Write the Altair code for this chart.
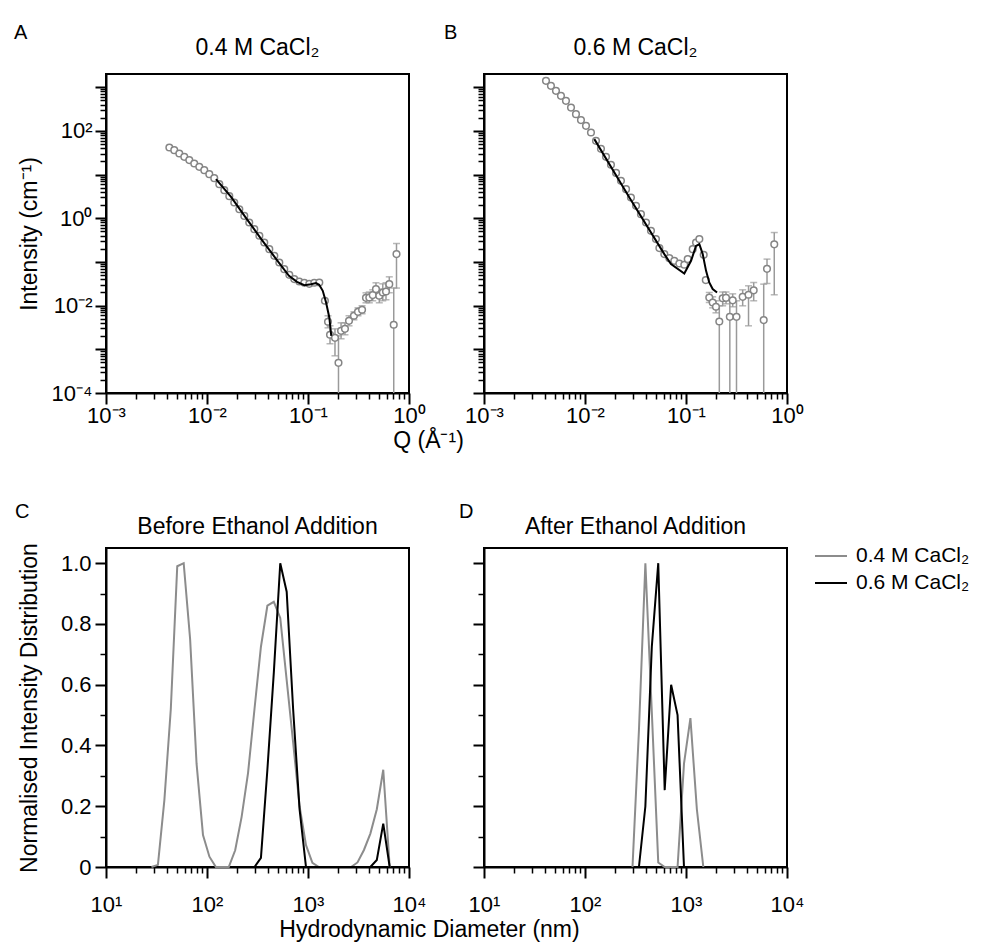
import math
import altair as alt
import pandas as pd

FONT = "Liberation Sans"
GREY = "#8c8c8c"
ERRC = "#9a9a9a"
S04 = "0.4 M CaCl₂"
S06 = "0.6 M CaCl₂"

# ---------------- ticks ----------------
MINOR_MULT = [2, 3, 4, 5, 6, 7, 8, 9]
Q_DOMAIN = [0.001, 1.0]
Q_MAJOR = [0.001, 0.01, 0.1, 1.0]
Q_LABELS = ["10⁻³", "10⁻²", "10⁻¹", "10⁰"]
Q_MINOR_DECADES = [0.001, 0.01, 0.1]
I_DOMAIN = [1e-4, 2000]
I_MAJOR = [1e-4, 1e-3, 1e-2, 1e-1, 1, 10, 100, 1000]
I_LABELS = ["10⁻⁴", "", "10⁻²", "", "10⁰", "", "10²", ""]
I_MINOR_DECADES = [1e-4, 1e-3, 1e-2, 1e-1, 1, 10, 100]
D_DOMAIN = [10, 10000]
D_MAJOR = [10, 100, 1000, 10000]
D_LABELS = ["10¹", "10²", "10³", "10⁴"]
D_MINOR_DECADES = [10, 100, 1000]
N_DOMAIN = [0, 1.05]
N_MAJOR = [0, 0.2, 0.4, 0.6, 0.8, 1.0]
N_LABELS = ["0", "0.2", "0.4", "0.6", "0.8", "1.0"]
N_MINOR = [0.1, 0.3, 0.5, 0.7, 0.9]

# ---------------- panel A: SAXS 0.4 M ----------------
A_Q = [0.00424, 0.00474, 0.00532, 0.00596, 0.00668, 0.00748, 0.00839, 0.00940, 0.01054, 0.0118,
       0.01324, 0.01483, 0.01663, 0.01862, 0.0209, 0.0234, 0.0262, 0.0294, 0.0330, 0.0369,
       0.0414, 0.0464, 0.0520, 0.0582, 0.0653, 0.0731, 0.0820, 0.0919, 0.103, 0.1154,
       0.1294, 0.147, 0.1578, 0.1652, 0.185, 0.2004, 0.2125, 0.2323, 0.2547, 0.285,
       0.3126, 0.343, 0.375, 0.4045, 0.4375, 0.471, 0.508, 0.550, 0.592, 0.638,
       0.706, 0.752]
A_I = [41.5, 36.2, 30.3, 25.4, 21.4, 17.9, 15.0, 12.6, 10.2, 8.27,
       6.03, 4.39, 3.20, 2.29, 1.61, 1.13, 0.797, 0.563, 0.396, 0.278,
       0.196, 0.138, 0.0968, 0.0684, 0.0507, 0.0404, 0.0356, 0.0333, 0.0315, 0.0333,
       0.0338, 0.0129, 0.00426, 0.00215, 0.00183, 0.00049, 0.00265, 0.00294, 0.00449, 0.00585,
       0.00721, 0.00802, 0.01507, 0.0153, 0.0174, 0.0239, 0.0168, 0.0200, 0.0210, 0.0310,
       0.00364, 0.151]
A_EQ = [0.1578, 0.1652, 0.185, 0.2004, 0.2125, 0.2323, 0.2547, 0.285, 0.3126, 0.343,
        0.375, 0.4045, 0.4375, 0.471, 0.508, 0.550, 0.592, 0.638, 0.706, 0.752]
A_ELO = [0.0031, 0.00134, 0.00071, 1e-6, 0.00174, 0.00215, 0.00345, 0.00473, 0.00585, 0.00649,
         0.0116, 0.0116, 0.0129, 0.0168, 0.0116, 0.0129, 0.0136, 0.0197, 1e-6, 0.0252]
A_EHI = [0.00585, 0.00345, 0.00294, 0.00204, 0.00404, 0.00404, 0.00585, 0.00721, 0.0089, 0.0099,
         0.0196, 0.0205, 0.023, 0.0333, 0.024, 0.0315, 0.0333, 0.0456, 0.0252, 0.264]
A_FQ = [0.01227, 0.0173, 0.0243, 0.0343, 0.0482, 0.0648, 0.0778, 0.0919, 0.107, 0.120,
        0.129, 0.140, 0.151, 0.1626, 0.170]
A_FI = [7.85, 3.09, 1.02, 0.338, 0.118, 0.0481, 0.0351, 0.0294, 0.0310, 0.0327,
        0.0299, 0.0218, 0.0118, 0.00535, 0.00204]

# ---------------- panel B: SAXS 0.6 M ----------------
B_Q = [0.00411, 0.0046, 0.00516, 0.00578, 0.00648, 0.00727, 0.00814, 0.00912, 0.01023, 0.01146,
       0.01285, 0.01439, 0.01614, 0.01808, 0.0203, 0.0227, 0.0255, 0.0285, 0.0320, 0.0358,
       0.0402, 0.0450, 0.0504, 0.0545, 0.0610, 0.0684, 0.0766, 0.0859, 0.0962, 0.104,
       0.1165, 0.1257, 0.1356, 0.1497, 0.157, 0.170, 0.1837, 0.198, 0.2137, 0.2307,
       0.249, 0.2716, 0.290, 0.3162, 0.364, 0.416, 0.468, 0.588, 0.634, 0.748]
B_I = [1393, 1071, 823, 632, 486, 341, 241, 176, 130, 91.4,
       59.0, 38.7, 25.4, 16.7, 10.9, 7.18, 4.63, 2.98, 1.92, 1.24,
       0.797, 0.515, 0.333, 0.207, 0.151, 0.122, 0.106, 0.0918, 0.0859, 0.116,
       0.196, 0.278, 0.333, 0.145, 0.0384, 0.0153, 0.01178, 0.0094, 0.00433, 0.0147,
       0.01507, 0.00554, 0.0132, 0.00554, 0.0159, 0.0177, 0.0224, 0.00466, 0.0695, 0.253]
B_EQ = [0.170, 0.1837, 0.198, 0.2137, 0.2307, 0.249, 0.2716, 0.290, 0.3162, 0.364,
        0.416, 0.468, 0.588, 0.634, 0.748]
B_ELO = [0.0118, 0.0089, 0.00684, 1e-6, 0.0099, 0.011, 1e-6, 0.0094, 1e-6, 0.0099,
         0.00345, 0.0129, 1e-6, 0.0321, 0.0177]
B_EHI = [0.020, 0.0159, 0.0129, 0.0099, 0.0205, 0.0205, 0.0129, 0.0186, 0.0129, 0.023,
         0.0284, 0.0338, 0.031, 0.116, 0.471]
B_FQ = [0.01237, 0.0275, 0.0610, 0.0710, 0.0962, 0.1122, 0.1257, 0.1356, 0.1464, 0.158,
        0.170, 0.1837, 0.203]
B_FI = [64.6, 2.98, 0.151, 0.0891, 0.0543, 0.106, 0.233, 0.255, 0.151, 0.0625,
        0.0338, 0.0239, 0.0200]

# ---------------- panel C: DLS before ethanol ----------------
C_G_D = [28.21, 32.67, 37.84, 43.82, 50.75, 58.77, 68.06, 78.82, 91.28, 105.7,
         122.4, 141.8, 164.2, 190.1, 220.2, 255.0, 295.3, 342.0, 396.1, 458.7,
         531.2, 615.1, 712.4, 825.0, 955.4, 1106, 1281, 1484, 1718, 1990,
         2305, 2669, 3091, 3580, 4145, 4801, 5560, 6439]
C_G_V = [0, 0.007, 0.22, 0.52, 0.99, 1.0, 0.75, 0.34, 0.105, 0.034,
         0, 0, 0, 0.055, 0.165, 0.31, 0.52, 0.725, 0.86, 0.873,
         0.82, 0.615, 0.41, 0.20, 0.072, 0.014, 0, 0, 0, 0,
         0, 0, 0.015, 0.056, 0.11, 0.19, 0.32, 0]
C_B_D = [255.0, 295.3, 342.0, 396.1, 458.7, 531.2, 615.1, 712.4, 825.0, 955.4,
         1106, 1281, 1484, 1718, 1990, 2305, 2669, 3091, 3580, 4145,
         4801, 5560, 6439]
C_B_V = [0, 0, 0.03, 0.32, 0.64, 1.0, 0.906, 0.52, 0.19, 0,
         0, 0, 0, 0, 0, 0, 0, 0, 0, 0,
         0.023, 0.143, 0]

# ---------------- panel D: DLS after ethanol ----------------
D_G_D = [295.3, 342.0, 396.1, 458.7, 531.2, 615.1, 712.4, 825.0, 955.4, 1106, 1281, 1484]
D_G_V = [0, 0.45, 1.0, 0.51, 0.015, 0, 0, 0, 0.34, 0.49, 0.19, 0]
D_B_D = [342.0, 396.1, 458.7, 531.2, 615.1, 712.4, 825.0, 955.4]
D_B_V = [0, 0.2, 0.725, 1.0, 0.253, 0.6, 0.5, 0]

W, H = 303, 319


def minor_ticks(decades):
    return [m * d for d in decades for m in MINOR_MULT]


def log_label_expr(values, labels):
    s = ""
    for v, l in zip(values, labels):
        s += f"abs(log(datum.value)/LN10 - ({math.log10(v):.4f})) < 0.01 ? '{l}' : "
    return s + "''"


def lin_label_expr(values, labels):
    s = ""
    for v, l in zip(values, labels):
        s += f"abs(datum.value - {v}) < 0.001 ? '{l}' : "
    return s + "''"


MAJOR = dict(tickSize=11, tickWidth=2, tickColor="black", domain=True, domainColor="black",
             domainWidth=2, grid=False, labelFont=FONT, labelFontSize=22, labelColor="black",
             labelFlush=False, labelOverlap=False, titleFont=FONT, titleFontSize=23,
             titleFontWeight="normal", titleColor="black")
MINOR = dict(tickSize=6, tickWidth=1.5, tickColor="black", domain=False, grid=False, labels=False)

LEGEND = alt.Legend(orient="none", legendX=708, legendY=465, title=None, labelFont=FONT,
                    labelFontSize=21, labelColor="black", symbolType="stroke", symbolSize=1024,
                    symbolStrokeWidth=2, labelOffset=8, rowPadding=0, padding=0)


def text_layers(letter, lx, ly, title, ty):
    """Panel letter (top-left) and panel heading (centred above the plot area)."""
    let = alt.Chart(pd.DataFrame({"t": [letter]})).mark_text(
        font=FONT, fontSize=20, align="left", baseline="top", color="black"
    ).encode(x=alt.value(lx), y=alt.value(ly), text="t:N")
    tit = alt.Chart(pd.DataFrame({"t": [title]})).mark_text(
        font=FONT, fontSize=23, align="center", baseline="alphabetic", color="black"
    ).encode(x=alt.value(W / 2), y=alt.value(ty), text="t:N")
    return [let, tit]


def saxs_panel(q, I, eq, elo, ehi, fq, fI, title, letter, lx, ly, first):
    xs = alt.Scale(type="log", domain=Q_DOMAIN, nice=False)
    ys = alt.Scale(type="log", domain=I_DOMAIN, nice=False)
    pts = pd.DataFrame({"q": q, "I": I})
    err = pd.DataFrame({"q": eq, "lo": elo, "hi": ehi})
    caps = pd.DataFrame({"q": eq + eq, "v": elo + ehi})
    fit = pd.DataFrame({"q": fq, "I": fI})

    bars = alt.Chart(err).mark_rule(color=ERRC, strokeWidth=1.5, clip=True).encode(
        x=alt.X("q:Q", scale=xs, axis=None),
        y=alt.Y("lo:Q", scale=ys, axis=None),
        y2="hi:Q",
    )
    capm = alt.Chart(caps).mark_tick(color=ERRC, thickness=1.5, size=7, orient="horizontal",
                                     clip=True).encode(
        x=alt.X("q:Q", scale=xs, axis=None),
        y=alt.Y("v:Q", scale=ys, axis=None),
    )
    if first:
        xax = alt.Axis(orient="bottom", values=Q_MAJOR, labelExpr=log_label_expr(Q_MAJOR, Q_LABELS),
                       labelPadding=1, title="Q (Å⁻¹)", titleX=322, titleY=36,
                       titleBaseline="top", titleAlign="center", **MAJOR)
        yax = alt.Axis(orient="left", values=I_MAJOR, labelExpr=log_label_expr(I_MAJOR, I_LABELS),
                       labelPadding=3, title="Intensity (cm⁻¹)", titleX=-65, titleY=H / 2,
                       titleAlign="center", titleBaseline="bottom", titleAngle=270, **MAJOR)
    else:
        xax = alt.Axis(orient="bottom", values=Q_MAJOR, labelExpr=log_label_expr(Q_MAJOR, Q_LABELS),
                       labelPadding=1, **MAJOR)
        yax = alt.Axis(orient="left", values=I_MAJOR, labels=False,
                       **{k: v for k, v in MAJOR.items() if not k.startswith("label")})
    points = alt.Chart(pts).mark_circle(size=44, fill="white", stroke="#858585", strokeWidth=1.5,
                                        opacity=1, fillOpacity=1).encode(
        x=alt.X("q:Q", scale=xs, axis=xax, title="Q (Å⁻¹)" if first else None),
        y=alt.Y("I:Q", scale=ys, axis=yax, title="Intensity (cm⁻¹)" if first else None),
    )
    fitl = alt.Chart(fit).mark_line(color="black", strokeWidth=2).encode(
        x=alt.X("q:Q", scale=xs, title=None,
                axis=alt.Axis(orient="bottom", values=minor_ticks(Q_MINOR_DECADES), **MINOR)),
        y=alt.Y("I:Q", scale=ys, title=None,
                axis=alt.Axis(orient="left", values=minor_ticks(I_MINOR_DECADES), **MINOR)),
    )
    return alt.layer(bars, capm, points, fitl, *text_layers(letter, lx, ly, title, -19)).resolve_axis(
        x="independent", y="independent"
    ).properties(width=W, height=H)


def dls_panel(gd, gv, bd, bv, title, letter, lx, ly, first):
    xs = alt.Scale(type="log", domain=D_DOMAIN, nice=False)
    ys = alt.Scale(domain=N_DOMAIN, nice=False, zero=False)
    df = pd.DataFrame({"d": gd + bd, "v": gv + bv, "s": [S04] * len(gd) + [S06] * len(bd)})
    color = alt.Color("s:N", scale=alt.Scale(domain=[S04, S06], range=[GREY, "black"]),
                      legend=LEGEND)
    if first:
        xax = alt.Axis(orient="bottom", values=D_MAJOR, labelExpr=log_label_expr(D_MAJOR, D_LABELS),
                       labelPadding=16, title="Hydrodynamic Diameter (nm)", titleX=323, titleY=51,
                       titleBaseline="top", titleAlign="center", **MAJOR)
        yax = alt.Axis(orient="left", values=N_MAJOR, labelExpr=lin_label_expr(N_MAJOR, N_LABELS),
                       labelPadding=4, title="Normalised Intensity Distribution", titleX=-65,
                       titleY=H / 2, titleAlign="center", titleBaseline="bottom", titleAngle=270,
                       **MAJOR)
    else:
        xax = alt.Axis(orient="bottom", values=D_MAJOR, labelExpr=log_label_expr(D_MAJOR, D_LABELS),
                       labelPadding=16, **MAJOR)
        yax = alt.Axis(orient="left", values=N_MAJOR, labels=False,
                       **{k: v for k, v in MAJOR.items() if not k.startswith("label")})
    base = alt.Chart(df)
    grey = base.transform_filter(alt.datum.s == S04).mark_line(strokeWidth=2).encode(
        x=alt.X("d:Q", scale=xs, axis=xax,
                title="Hydrodynamic Diameter (nm)" if first else None),
        y=alt.Y("v:Q", scale=ys, axis=yax,
                title="Normalised Intensity Distribution" if first else None),
        color=color,
    )
    black = base.transform_filter(alt.datum.s == S06).mark_line(strokeWidth=2).encode(
        x=alt.X("d:Q", scale=xs, title=None,
                axis=alt.Axis(orient="bottom", values=minor_ticks(D_MINOR_DECADES), **MINOR)),
        y=alt.Y("v:Q", scale=ys, title=None,
                axis=alt.Axis(orient="left", values=N_MINOR, **MINOR)),
        color=color,
    )
    return alt.layer(grey, black, *text_layers(letter, lx, ly, title, -14)).resolve_axis(
        x="independent", y="independent"
    ).properties(width=W, height=H)


pA = saxs_panel(A_Q, A_I, A_EQ, A_ELO, A_EHI, A_FQ, A_FI, S04, "A", -92, -51, True)
pB = saxs_panel(B_Q, B_I, B_EQ, B_ELO, B_EHI, B_FQ, B_FI, S06, "B", -40, -51, False)
pC = dls_panel(C_G_D, C_G_V, C_B_D, C_B_V, "Before Ethanol Addition", "C", -91, -46, True)
pD = dls_panel(D_G_D, D_G_V, D_B_D, D_B_V, "After Ethanol Addition", "D", -25, -46, False)

chart = alt.concat(pA, pB, pC, pD, columns=2, spacing={"row": 155, "column": 75},
                   bounds="flush").properties(
    padding={"left": 5, "top": 14, "right": 5, "bottom": 0},
    background="white",
).configure_view(stroke="black", strokeWidth=2)

chart.save("out.html", embed_options={"renderer": "svg", "actions": False})
